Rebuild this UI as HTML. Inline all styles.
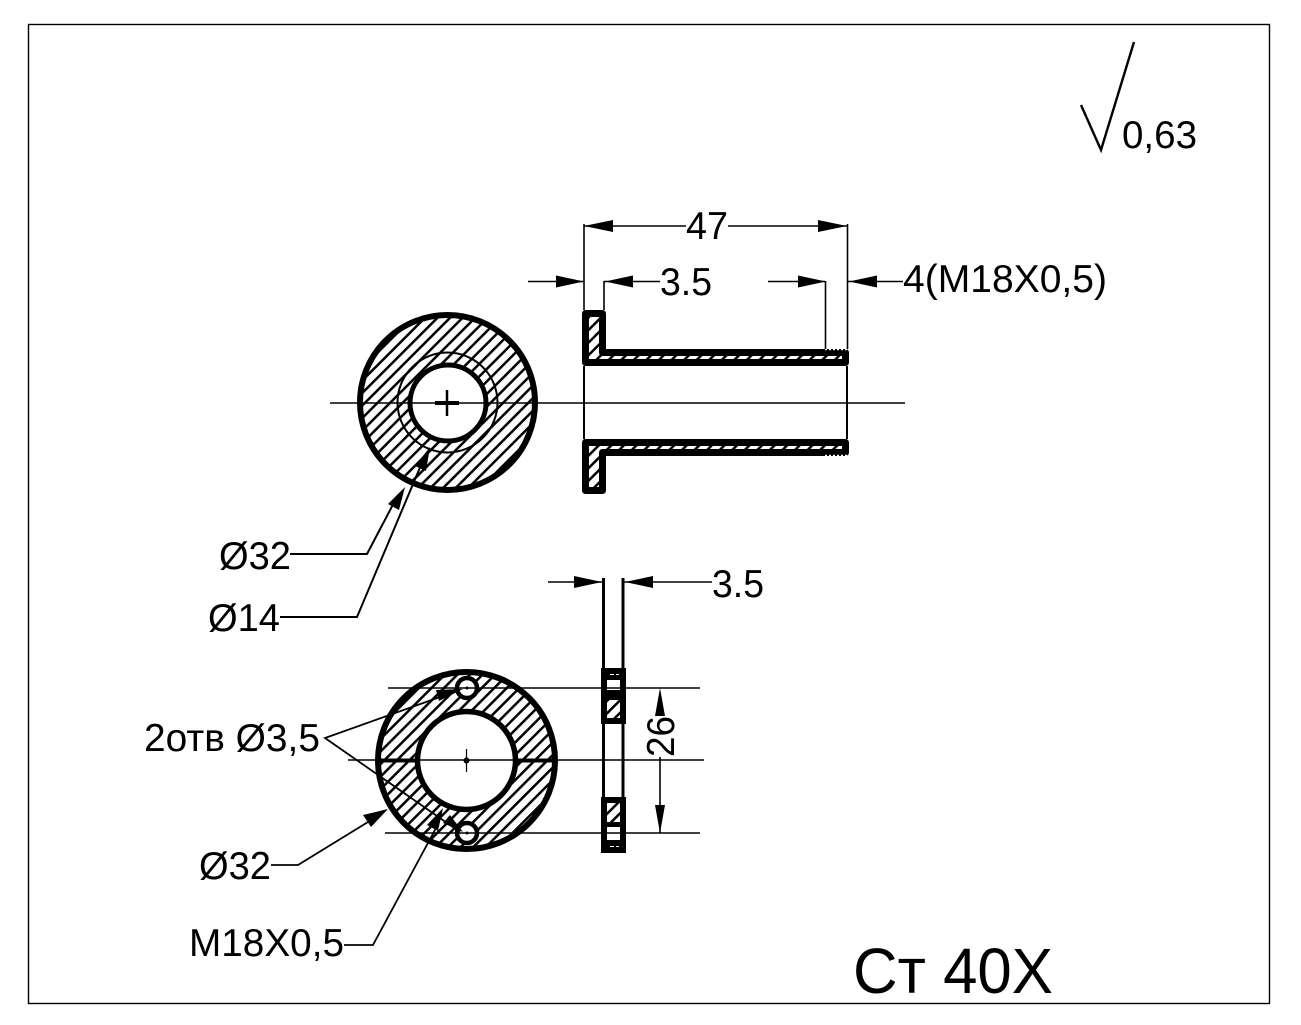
<!DOCTYPE html>
<html><head><meta charset="utf-8"><style>
html,body{margin:0;padding:0;background:#fff}
svg{display:block}
text{font-family:"Liberation Sans",sans-serif;fill:#000;font-size:39px}
</style></head><body>
<svg width="1301" height="1025" viewBox="0 0 1301 1025" xmlns="http://www.w3.org/2000/svg">
<defs>
<pattern id="h" width="12" height="12" patternUnits="userSpaceOnUse" patternTransform="rotate(-45) scale(0.74)">
<rect x="0" y="0" width="12" height="3.4" fill="#000"/>
</pattern>
<mask id="m1"><rect width="1301" height="1025" fill="#000"/><circle cx="447.5" cy="402.5" r="88" fill="#fff"/><circle cx="448" cy="403" r="38" fill="#000"/></mask>
<mask id="m2"><rect width="1301" height="1025" fill="#000"/><circle cx="466.5" cy="760.5" r="89" fill="#fff"/><circle cx="466.5" cy="760.5" r="49" fill="#000"/></mask>
</defs>
<rect x="28.5" y="24.5" width="1241" height="979" fill="none" stroke="#000" stroke-width="1.4"/>

<!-- roughness -->
<polyline points="1081,105 1101,150 1134,42" fill="none" stroke="#000" stroke-width="2.4"/>
<text x="1122" y="148" textLength="75" lengthAdjust="spacingAndGlyphs">0,63</text>

<!-- top circle -->
<rect x="350" y="305" width="195" height="195" fill="url(#h)" mask="url(#m1)"/>
<circle cx="447.5" cy="402.5" r="87.5" fill="none" stroke="#000" stroke-width="6"/>
<circle cx="448" cy="403" r="38" fill="#fff" stroke="#000" stroke-width="5"/>
<circle cx="447.5" cy="402.5" r="50" fill="none" stroke="#000" stroke-width="2"/>
<line x1="330" y1="403" x2="905" y2="403" stroke="#000" stroke-width="1.6"/>
<line x1="435" y1="403" x2="459" y2="403" stroke="#000" stroke-width="4"/>
<line x1="447" y1="390" x2="447" y2="416" stroke="#000" stroke-width="2.5"/>

<!-- section top view -->
<path d="M585.5 313.5H602.5V352.5H845.5V362.5H585.5Z" fill="url(#h)" stroke="#000" stroke-width="7" stroke-linejoin="round"/>
<path d="M585.5 442.5H845.5V452.5H602.5V490.5H585.5Z" fill="url(#h)" stroke="#000" stroke-width="7" stroke-linejoin="round"/>
<line x1="825" y1="349.5" x2="847" y2="349.5" stroke="#fff" stroke-width="1.4" stroke-dasharray="2 2"/>
<line x1="825" y1="455.5" x2="847" y2="455.5" stroke="#fff" stroke-width="1.4" stroke-dasharray="2 2"/>
<line x1="584" y1="366" x2="584" y2="439" stroke="#000" stroke-width="2"/>
<line x1="847" y1="366" x2="847" y2="439" stroke="#000" stroke-width="2"/>

<!-- extension lines -->
<g stroke="#000" stroke-width="1.6" fill="none">
<line x1="584" y1="224" x2="584" y2="310"/>
<line x1="604" y1="281" x2="604" y2="310"/>
<line x1="825.5" y1="281" x2="825.5" y2="349"/>
<line x1="847.5" y1="224" x2="847.5" y2="349"/>
<line x1="584" y1="226" x2="686" y2="226"/>
<line x1="728" y1="226" x2="847" y2="226"/>
<line x1="528" y1="281.5" x2="584" y2="281.5"/>
<line x1="604" y1="281.5" x2="660" y2="281.5"/>
<line x1="768" y1="281.5" x2="825" y2="281.5"/>
<line x1="848" y1="281.5" x2="903" y2="281.5"/>
</g>
<g fill="#000">
<polygon points="584,226 613,220 613,232"/>
<polygon points="847,226 818,220 818,232"/>
<polygon points="584,281.5 556,275.5 556,287.5"/>
<polygon points="605,281.5 633,275.5 633,287.5"/>
<polygon points="826,281.5 798,275.5 798,287.5"/>
<polygon points="849,281.5 877,275.5 877,287.5"/>
</g>
<text x="686" y="239" textLength="42" lengthAdjust="spacingAndGlyphs">47</text>
<text x="660" y="295" textLength="52" lengthAdjust="spacingAndGlyphs">3.5</text>
<text x="903" y="292" textLength="204" lengthAdjust="spacingAndGlyphs">4(M18X0,5)</text>

<!-- leaders top -->
<g fill="none" stroke="#000" stroke-width="2">
<polyline points="290,554 367,554 398,495"/>
<polyline points="280,617 357,617 424,458"/>
</g>
<g fill="#000">
<polygon points="405,487 399,510 388,504"/>
<polygon points="430,447 426,471 415,466"/>
</g>
<text x="219" y="569" textLength="72" lengthAdjust="spacingAndGlyphs">Ø32</text>
<text x="208" y="631" textLength="72" lengthAdjust="spacingAndGlyphs">Ø14</text>

<!-- dim 3.5 side -->
<g stroke="#000" fill="none">
<line x1="548" y1="582" x2="604" y2="582" stroke-width="1.6"/>
<line x1="623" y1="582" x2="712" y2="582" stroke-width="1.6"/>
<line x1="603.5" y1="578" x2="603.5" y2="670" stroke-width="3"/>
<line x1="623" y1="578" x2="623" y2="670" stroke-width="3"/>
<line x1="603.5" y1="724" x2="603.5" y2="797" stroke-width="3"/>
<line x1="623" y1="724" x2="623" y2="797" stroke-width="3"/>
</g>
<g fill="#000">
<polygon points="602,582 574,576 574,588"/>
<polygon points="625,582 653,576 653,588"/>
</g>
<text x="712" y="597" textLength="52" lengthAdjust="spacingAndGlyphs">3.5</text>

<!-- bottom circle -->
<rect x="370" y="665" width="195" height="195" fill="url(#h)" mask="url(#m2)"/>
<circle cx="466.5" cy="760.5" r="88.5" fill="none" stroke="#000" stroke-width="6"/>
<circle cx="466.5" cy="760.5" r="49" fill="#fff" stroke="#000" stroke-width="5.5"/>
<circle cx="467" cy="688" r="10" fill="#fff" stroke="#000" stroke-width="4.5"/>
<circle cx="467" cy="833" r="10" fill="#fff" stroke="#000" stroke-width="4.5"/>
<g stroke="#000" fill="none">
<line x1="388" y1="688" x2="700" y2="688" stroke-width="1.6"/>
<line x1="385" y1="833" x2="700" y2="833" stroke-width="1.6"/>
<line x1="348" y1="760" x2="704" y2="760" stroke-width="1.6"/>
<line x1="375" y1="760.5" x2="415" y2="760.5" stroke-width="4"/>
<line x1="518" y1="760.5" x2="558" y2="760.5" stroke-width="4"/>
<line x1="466.5" y1="749" x2="466.5" y2="772" stroke-width="1.2"/>
</g>
<circle cx="466.5" cy="760.5" r="3" fill="#000"/>
<circle cx="467" cy="688" r="1.5" fill="#000"/>
<circle cx="467" cy="833" r="1.5" fill="#000"/>

<!-- side view blocks -->
<rect x="604" y="671" width="19" height="50" fill="#fff" stroke="#000" stroke-width="6"/>
<rect x="604" y="800" width="19" height="50" fill="#fff" stroke="#000" stroke-width="6"/>
<rect x="604" y="672" width="19" height="8" fill="#000"/>
<rect x="610" y="674" width="4" height="1" fill="#fff"/>
<rect x="616" y="674" width="3" height="1" fill="#fff"/>
<rect x="604" y="690" width="19" height="10" fill="#000"/>
<rect x="607" y="700" width="13" height="19" fill="url(#h)"/>
<rect x="607" y="803" width="13" height="19" fill="url(#h)"/>
<rect x="604" y="822" width="19" height="5" fill="#000"/>
<rect x="604" y="840" width="19" height="9" fill="#000"/>
<rect x="610" y="846" width="4" height="1" fill="#fff"/>
<rect x="616" y="846" width="3" height="1" fill="#fff"/>
<line x1="601" y1="688" x2="626" y2="688" stroke="#000" stroke-width="1.6"/>
<line x1="601" y1="833" x2="626" y2="833" stroke="#000" stroke-width="1.6"/>

<!-- dim 26 -->
<line x1="660" y1="757" x2="660" y2="833" stroke="#000" stroke-width="1.6"/>
<g fill="#000">
<polygon points="660,688 665,716 655,716"/>
<polygon points="660,833 665,805 655,805"/>
</g>
<text transform="translate(674,757) rotate(-90)" textLength="41" lengthAdjust="spacingAndGlyphs">26</text>

<!-- leaders bottom -->
<g fill="none" stroke="#000" stroke-width="1.8">
<polyline points="440,697 325,738 460,832"/>
<polyline points="271,865 298,865 368,822"/>
<polyline points="344,945 373,945 436,828"/>
</g>
<g fill="#000">
<polygon points="463,689 439,701 436,690"/>
<polygon points="463,832 443,823 450,815"/>
<polygon points="388,809 371,827 363,815"/>
<polygon points="443,808 438,831 427,825"/>
</g>
<text x="144" y="751" textLength="176" lengthAdjust="spacingAndGlyphs">2отв Ø3,5</text>
<text x="199" y="879" textLength="72" lengthAdjust="spacingAndGlyphs">Ø32</text>
<text x="189" y="956" textLength="155" lengthAdjust="spacingAndGlyphs">M18X0,5</text>
<text x="853" y="993" style="font-size:64px" textLength="200" lengthAdjust="spacingAndGlyphs">Ст 40Х</text>
</svg>
</body></html>
